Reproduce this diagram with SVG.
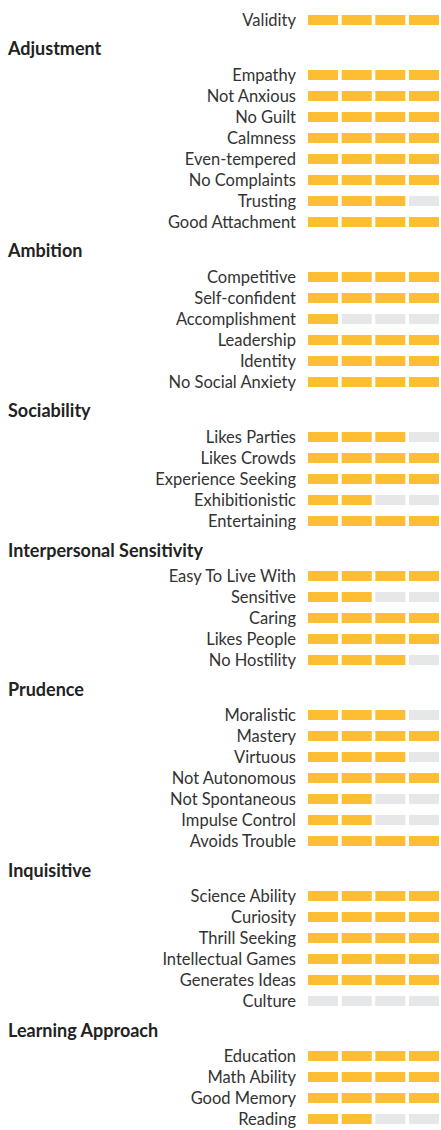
<svg xmlns="http://www.w3.org/2000/svg" width="441" height="1130" viewBox="0 0 441 1130">
<style>
.bg{fill:#ffffff}
.h{font-family:Lato,"Liberation Sans",sans-serif;font-size:18px;font-weight:bold;fill:#222222}
.l{font-family:Lato,"Liberation Sans",sans-serif;font-size:16.5px;fill:#333333;text-anchor:end}
.f{fill:#FEBE34}
.e{fill:#E6E7E8}
</style>
<defs>
<rect id="b" width="30" height="10"/>
</defs>
<rect class="bg" x="0" y="0" width="441" height="1130"/>
<g id="rows">
<g id="r-validity"><text class="l" x="296" y="26">Validity</text><use href="#b" class="f" x="308" y="15"/><use href="#b" class="f" x="341.7" y="15"/><use href="#b" class="f" x="375.3" y="15"/><use href="#b" class="f" x="409" y="15"/></g>

<g id="h-adjustment"><text class="h" x="8" y="55">Adjustment</text></g>
<g id="r-empathy"><text class="l" x="296" y="81">Empathy</text><use href="#b" class="f" x="308" y="70"/><use href="#b" class="f" x="341.7" y="70"/><use href="#b" class="f" x="375.3" y="70"/><use href="#b" class="f" x="409" y="70"/></g>
<g id="r-notanxious"><text class="l" x="296" y="102">Not Anxious</text><use href="#b" class="f" x="308" y="91"/><use href="#b" class="f" x="341.7" y="91"/><use href="#b" class="f" x="375.3" y="91"/><use href="#b" class="f" x="409" y="91"/></g>
<g id="r-noguilt"><text class="l" x="296" y="123">No Guilt</text><use href="#b" class="f" x="308" y="112"/><use href="#b" class="f" x="341.7" y="112"/><use href="#b" class="f" x="375.3" y="112"/><use href="#b" class="f" x="409" y="112"/></g>
<g id="r-calmness"><text class="l" x="296" y="144">Calmness</text><use href="#b" class="f" x="308" y="133"/><use href="#b" class="f" x="341.7" y="133"/><use href="#b" class="f" x="375.3" y="133"/><use href="#b" class="f" x="409" y="133"/></g>
<g id="r-eventempered"><text class="l" x="296" y="165">Even-tempered</text><use href="#b" class="f" x="308" y="154"/><use href="#b" class="f" x="341.7" y="154"/><use href="#b" class="f" x="375.3" y="154"/><use href="#b" class="f" x="409" y="154"/></g>
<g id="r-nocomplaints"><text class="l" x="296" y="186">No Complaints</text><use href="#b" class="f" x="308" y="175"/><use href="#b" class="f" x="341.7" y="175"/><use href="#b" class="f" x="375.3" y="175"/><use href="#b" class="f" x="409" y="175"/></g>
<g id="r-trusting"><text class="l" x="296" y="207">Trusting</text><use href="#b" class="f" x="308" y="196"/><use href="#b" class="f" x="341.7" y="196"/><use href="#b" class="f" x="375.3" y="196"/><use href="#b" class="e" x="409" y="196"/></g>
<g id="r-goodattachment"><text class="l" x="296" y="228">Good Attachment</text><use href="#b" class="f" x="308" y="217"/><use href="#b" class="f" x="341.7" y="217"/><use href="#b" class="f" x="375.3" y="217"/><use href="#b" class="f" x="409" y="217"/></g>

<g id="h-ambition"><text class="h" x="8" y="257">Ambition</text></g>
<g id="r-competitive"><text class="l" x="296" y="283">Competitive</text><use href="#b" class="f" x="308" y="272"/><use href="#b" class="f" x="341.7" y="272"/><use href="#b" class="f" x="375.3" y="272"/><use href="#b" class="f" x="409" y="272"/></g>
<g id="r-selfconfident"><text class="l" x="296" y="304">Self-confident</text><use href="#b" class="f" x="308" y="293"/><use href="#b" class="f" x="341.7" y="293"/><use href="#b" class="f" x="375.3" y="293"/><use href="#b" class="f" x="409" y="293"/></g>
<g id="r-accomplishment"><text class="l" x="296" y="325">Accomplishment</text><use href="#b" class="f" x="308" y="314"/><use href="#b" class="e" x="341.7" y="314"/><use href="#b" class="e" x="375.3" y="314"/><use href="#b" class="e" x="409" y="314"/></g>
<g id="r-leadership"><text class="l" x="296" y="346">Leadership</text><use href="#b" class="f" x="308" y="335"/><use href="#b" class="f" x="341.7" y="335"/><use href="#b" class="f" x="375.3" y="335"/><use href="#b" class="f" x="409" y="335"/></g>
<g id="r-identity"><text class="l" x="296" y="367">Identity</text><use href="#b" class="f" x="308" y="356"/><use href="#b" class="f" x="341.7" y="356"/><use href="#b" class="f" x="375.3" y="356"/><use href="#b" class="f" x="409" y="356"/></g>
<g id="r-nosocialanxiety"><text class="l" x="296" y="388">No Social Anxiety</text><use href="#b" class="f" x="308" y="377"/><use href="#b" class="f" x="341.7" y="377"/><use href="#b" class="f" x="375.3" y="377"/><use href="#b" class="f" x="409" y="377"/></g>

<g id="h-sociability"><text class="h" x="8" y="417">Sociability</text></g>
<g id="r-likesparties"><text class="l" x="296" y="443">Likes Parties</text><use href="#b" class="f" x="308" y="432"/><use href="#b" class="f" x="341.7" y="432"/><use href="#b" class="f" x="375.3" y="432"/><use href="#b" class="e" x="409" y="432"/></g>
<g id="r-likescrowds"><text class="l" x="296" y="464">Likes Crowds</text><use href="#b" class="f" x="308" y="453"/><use href="#b" class="f" x="341.7" y="453"/><use href="#b" class="f" x="375.3" y="453"/><use href="#b" class="f" x="409" y="453"/></g>
<g id="r-experienceseeking"><text class="l" x="296" y="485">Experience Seeking</text><use href="#b" class="f" x="308" y="474"/><use href="#b" class="f" x="341.7" y="474"/><use href="#b" class="f" x="375.3" y="474"/><use href="#b" class="f" x="409" y="474"/></g>
<g id="r-exhibitionistic"><text class="l" x="296" y="506">Exhibitionistic</text><use href="#b" class="f" x="308" y="495"/><use href="#b" class="f" x="341.7" y="495"/><use href="#b" class="e" x="375.3" y="495"/><use href="#b" class="e" x="409" y="495"/></g>
<g id="r-entertaining"><text class="l" x="296" y="527">Entertaining</text><use href="#b" class="f" x="308" y="516"/><use href="#b" class="f" x="341.7" y="516"/><use href="#b" class="f" x="375.3" y="516"/><use href="#b" class="f" x="409" y="516"/></g>

<g id="h-interpersonal"><text class="h" x="8" y="557">Interpersonal Sensitivity</text></g>
<g id="r-easytolivewith"><text class="l" x="296" y="582">Easy To Live With</text><use href="#b" class="f" x="308" y="571"/><use href="#b" class="f" x="341.7" y="571"/><use href="#b" class="f" x="375.3" y="571"/><use href="#b" class="f" x="409" y="571"/></g>
<g id="r-sensitive"><text class="l" x="296" y="603">Sensitive</text><use href="#b" class="f" x="308" y="592"/><use href="#b" class="f" x="341.7" y="592"/><use href="#b" class="e" x="375.3" y="592"/><use href="#b" class="e" x="409" y="592"/></g>
<g id="r-caring"><text class="l" x="296" y="624">Caring</text><use href="#b" class="f" x="308" y="613"/><use href="#b" class="f" x="341.7" y="613"/><use href="#b" class="f" x="375.3" y="613"/><use href="#b" class="f" x="409" y="613"/></g>
<g id="r-likespeople"><text class="l" x="296" y="645">Likes People</text><use href="#b" class="f" x="308" y="634"/><use href="#b" class="f" x="341.7" y="634"/><use href="#b" class="f" x="375.3" y="634"/><use href="#b" class="f" x="409" y="634"/></g>
<g id="r-nohostility"><text class="l" x="296" y="666">No Hostility</text><use href="#b" class="f" x="308" y="655"/><use href="#b" class="f" x="341.7" y="655"/><use href="#b" class="f" x="375.3" y="655"/><use href="#b" class="e" x="409" y="655"/></g>

<g id="h-prudence"><text class="h" x="8" y="696">Prudence</text></g>
<g id="r-moralistic"><text class="l" x="296" y="721">Moralistic</text><use href="#b" class="f" x="308" y="710"/><use href="#b" class="f" x="341.7" y="710"/><use href="#b" class="f" x="375.3" y="710"/><use href="#b" class="e" x="409" y="710"/></g>
<g id="r-mastery"><text class="l" x="296" y="742">Mastery</text><use href="#b" class="f" x="308" y="731"/><use href="#b" class="f" x="341.7" y="731"/><use href="#b" class="f" x="375.3" y="731"/><use href="#b" class="f" x="409" y="731"/></g>
<g id="r-virtuous"><text class="l" x="296" y="763">Virtuous</text><use href="#b" class="f" x="308" y="752"/><use href="#b" class="f" x="341.7" y="752"/><use href="#b" class="f" x="375.3" y="752"/><use href="#b" class="e" x="409" y="752"/></g>
<g id="r-notautonomous"><text class="l" x="296" y="784">Not Autonomous</text><use href="#b" class="f" x="308" y="773"/><use href="#b" class="f" x="341.7" y="773"/><use href="#b" class="f" x="375.3" y="773"/><use href="#b" class="f" x="409" y="773"/></g>
<g id="r-notspontaneous"><text class="l" x="296" y="805">Not Spontaneous</text><use href="#b" class="f" x="308" y="794"/><use href="#b" class="f" x="341.7" y="794"/><use href="#b" class="e" x="375.3" y="794"/><use href="#b" class="e" x="409" y="794"/></g>
<g id="r-impulsecontrol"><text class="l" x="296" y="826">Impulse Control</text><use href="#b" class="f" x="308" y="815"/><use href="#b" class="f" x="341.7" y="815"/><use href="#b" class="e" x="375.3" y="815"/><use href="#b" class="e" x="409" y="815"/></g>
<g id="r-avoidstrouble"><text class="l" x="296" y="847">Avoids Trouble</text><use href="#b" class="f" x="308" y="836"/><use href="#b" class="f" x="341.7" y="836"/><use href="#b" class="f" x="375.3" y="836"/><use href="#b" class="f" x="409" y="836"/></g>

<g id="h-inquisitive"><text class="h" x="8" y="877">Inquisitive</text></g>
<g id="r-scienceability"><text class="l" x="296" y="902">Science Ability</text><use href="#b" class="f" x="308" y="891"/><use href="#b" class="f" x="341.7" y="891"/><use href="#b" class="f" x="375.3" y="891"/><use href="#b" class="f" x="409" y="891"/></g>
<g id="r-curiosity"><text class="l" x="296" y="923">Curiosity</text><use href="#b" class="f" x="308" y="912"/><use href="#b" class="f" x="341.7" y="912"/><use href="#b" class="f" x="375.3" y="912"/><use href="#b" class="f" x="409" y="912"/></g>
<g id="r-thrillseeking"><text class="l" x="296" y="944">Thrill Seeking</text><use href="#b" class="f" x="308" y="933"/><use href="#b" class="f" x="341.7" y="933"/><use href="#b" class="f" x="375.3" y="933"/><use href="#b" class="f" x="409" y="933"/></g>
<g id="r-intellectualgames"><text class="l" x="296" y="965">Intellectual Games</text><use href="#b" class="f" x="308" y="954"/><use href="#b" class="f" x="341.7" y="954"/><use href="#b" class="f" x="375.3" y="954"/><use href="#b" class="f" x="409" y="954"/></g>
<g id="r-generatesideas"><text class="l" x="296" y="986">Generates Ideas</text><use href="#b" class="f" x="308" y="975"/><use href="#b" class="f" x="341.7" y="975"/><use href="#b" class="f" x="375.3" y="975"/><use href="#b" class="f" x="409" y="975"/></g>
<g id="r-culture"><text class="l" x="296" y="1007">Culture</text><use href="#b" class="e" x="308" y="996"/><use href="#b" class="e" x="341.7" y="996"/><use href="#b" class="e" x="375.3" y="996"/><use href="#b" class="e" x="409" y="996"/></g>

<g id="h-learning"><text class="h" x="8" y="1037">Learning Approach</text></g>
<g id="r-education"><text class="l" x="296" y="1062">Education</text><use href="#b" class="f" x="308" y="1051"/><use href="#b" class="f" x="341.7" y="1051"/><use href="#b" class="f" x="375.3" y="1051"/><use href="#b" class="f" x="409" y="1051"/></g>
<g id="r-mathability"><text class="l" x="296" y="1083">Math Ability</text><use href="#b" class="f" x="308" y="1072"/><use href="#b" class="f" x="341.7" y="1072"/><use href="#b" class="f" x="375.3" y="1072"/><use href="#b" class="f" x="409" y="1072"/></g>
<g id="r-goodmemory"><text class="l" x="296" y="1104">Good Memory</text><use href="#b" class="f" x="308" y="1093"/><use href="#b" class="f" x="341.7" y="1093"/><use href="#b" class="f" x="375.3" y="1093"/><use href="#b" class="f" x="409" y="1093"/></g>
<g id="r-reading"><text class="l" x="296" y="1125">Reading</text><use href="#b" class="f" x="308" y="1114"/><use href="#b" class="f" x="341.7" y="1114"/><use href="#b" class="e" x="375.3" y="1114"/><use href="#b" class="e" x="409" y="1114"/></g>
</g>
<g id="connectors"></g>
</svg>
